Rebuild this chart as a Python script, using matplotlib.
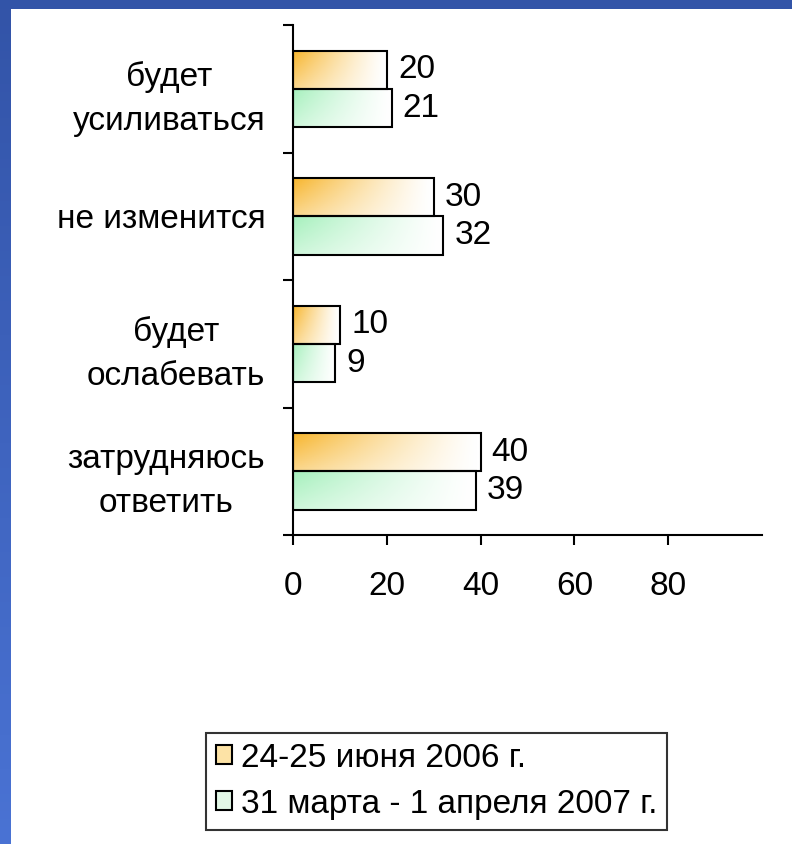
import numpy as np
import matplotlib
matplotlib.use('Agg')
import matplotlib.pyplot as plt
from matplotlib.patches import Patch, Rectangle

# survey answers (top to bottom) and shares, %
categories = ['будет\nусиливаться', 'не изменится', 'будет\nослабевать', 'затрудняюсь\nответить']
june_2006 = [20, 30, 10, 40]
march_2007 = [21, 32, 9, 39]
series_labels = ['24-25 июня 2006 г.', '31 марта - 1 апреля 2007 г.']
x_ticks = [0, 20, 40, 60, 80]

plt.rcParams['font.family'] = ['Liberation Sans', 'DejaVu Sans']
FS = 24


def gradient(base, w=80, h=20):
    # colour fades from the top-left corner towards white on the right
    X, Y = np.meshgrid(np.linspace(0, 1, w), np.linspace(0, 1, h))
    strength = np.clip(1 - X * 1.02, 0, 1) ** 1.2 * (1 - 0.45 * Y)
    base = np.array(matplotlib.colors.to_rgb(base))
    return 1 - (1 - base) * strength[..., None]


fig = plt.figure(figsize=(7.92, 8.44), dpi=100)
fig.patch.set_facecolor('white')

# blue slide frame on the top and left
fig.add_artist(Rectangle((0, 1 - 9 / 844), 1, 9 / 844, transform=fig.transFigure,
                         facecolor='#3254a8', edgecolor='none'))
ax_side = fig.add_axes([0, 0, 11 / 792, 1 - 9 / 844])
side = np.linspace(0, 1, 100)[:, None]
side_rgb = (1 - side)[..., None] * np.array([0.20, 0.33, 0.66]) + side[..., None] * np.array([0.29, 0.45, 0.83])
ax_side.imshow(side_rgb, aspect='auto', extent=(0, 1, 0, 1))
ax_side.axis('off')

ax = fig.add_axes([0.370, 0.366, 0.592, 0.604])
y = np.arange(len(categories))
h = 0.3

bars_a = ax.barh(y - h / 2, june_2006, height=h, facecolor='none', edgecolor='black', linewidth=1.5, zorder=3)
bars_b = ax.barh(y + h / 2, march_2007, height=h, facecolor='none', edgecolor='black', linewidth=1.5, zorder=3)

for container, base in [(bars_a, '#f7b52c'), (bars_b, '#a6f0bd')]:
    img = gradient(base)
    for patch in container.patches:
        x0, y0 = patch.get_x(), patch.get_y()
        w, hh = patch.get_width(), patch.get_height()
        im = ax.imshow(img, extent=(x0, x0 + w, y0 + hh, y0), aspect='auto', zorder=2)
        im.set_clip_path(patch)
    ax.bar_label(container, padding=8, fontsize=FS)

ax.set_xlim(0, 100)
ax.set_ylim(3.5, -0.5)
ax.set_facecolor('none')

ax.set_xticks(x_ticks)
ax.tick_params(axis='x', length=7, width=1.5, pad=19, labelsize=FS)
ax.set_yticks(y)
ax.set_yticklabels(categories, fontsize=FS, linespacing=1.55)
for lab in ax.get_yticklabels():
    lab.set_multialignment('center')
ax.tick_params(axis='y', which='major', length=0, pad=20)
ax.set_yticks(np.arange(-0.5, 4, 1), minor=True)
ax.tick_params(axis='y', which='minor', length=7, width=1.5)

for side_name in ['top', 'right']:
    ax.spines[side_name].set_visible(False)
for side_name in ['left', 'bottom']:
    ax.spines[side_name].set_linewidth(1.5)

handles = [Patch(facecolor='#fde3a6', edgecolor='black', linewidth=1.5),
           Patch(facecolor='#e2f7e6', edgecolor='black', linewidth=1.5)]
leg = fig.legend(handles, series_labels, loc='center', bbox_to_anchor=(0.551, 0.0746),
                 fontsize=FS, frameon=True, fancybox=False, edgecolor='black',
                 handlelength=0.5, handleheight=0.5, handletextpad=0.25,
                 borderpad=0.3, labelspacing=0.45, borderaxespad=0)
leg.get_frame().set_linewidth(1.5)

fig.savefig('out.png', dpi=100)
